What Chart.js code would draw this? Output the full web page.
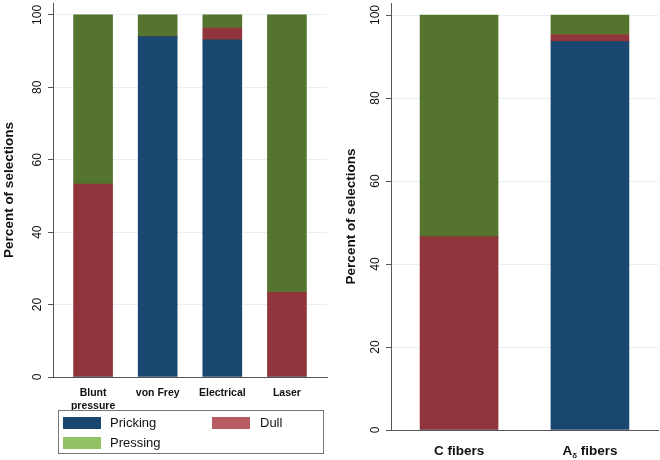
<!DOCTYPE html>
<html>
<head>
<meta charset="utf-8">
<script src="https://cdn.jsdelivr.net/npm/chart.js@4"></script>
<style>
  body { margin: 0; background: #fff; font-family: "Liberation Sans", Arial, sans-serif; }
  #wrap { position: relative; width: 660px; height: 460px; }
  canvas { position: absolute; top: 0; }
  #legend { position: absolute; left: 58px; top: 410px; width: 264px; height: 42px; border: 1px solid #777; font-size: 13px; color: #111; }
  .sw { position: absolute; width: 38px; height: 12px; }
  .lb { position: absolute; line-height: 14px; }
</style>
</head>
<body>
<div id="wrap">
  <canvas id="chartLeft" width="340" height="460" style="left:0"></canvas>
  <canvas id="chartRight" width="320" height="460" style="left:340px"></canvas>
  <div id="legend">
    <div class="sw" style="left:4px;top:6px;background:#1a476f"></div><div class="lb" style="left:51px;top:5px">Pricking</div>
    <div class="sw" style="left:153px;top:6px;background:#b75c62"></div><div class="lb" style="left:201px;top:5px">Dull</div>
    <div class="sw" style="left:4px;top:26px;background:#93c166"></div><div class="lb" style="left:51px;top:25px">Pressing</div>
  </div>
</div>
<script>
// données
const stimuli = [["Blunt", "pressure"], "von Frey", "Electrical", "Laser"];
const prickingStim = [0, 94.0, 93.1, 0];
const dullStim = [53.3, 0, 3.3, 23.4];
const pressingStim = [46.7, 6.0, 3.6, 76.6];

const fibers = ["C fibers", "A_δ fibers"];
const prickingFib = [0, 93.6];
const dullFib = [46.6, 1.7];
const pressingFib = [53.4, 4.7];

const yTicks = [0, 20, 40, 60, 80, 100];

const FONT = '"Liberation Sans", Arial, sans-serif';
const BLUE = "#1a476f", RED = "#90353b", GREEN = "#55752f";
const AXIS = "#555";

function pts(arr) {
  return arr.map((v, i) => ({ x: i, y: v }));
}

function datasets(p, d, s, thick) {
  return [
    { label: "Pricking", data: pts(p), backgroundColor: BLUE, barThickness: thick },
    { label: "Dull", data: pts(d), backgroundColor: RED, barThickness: thick },
    { label: "Pressing", data: pts(s), backgroundColor: GREEN, barThickness: thick },
  ];
}

// étiquettes de l'axe y tournées (style Stata)
const rotatedTicks = {
  id: "rotatedTicks",
  afterDraw(chart) {
    const y = chart.scales.y;
    const ctx = chart.ctx;
    ctx.save();
    ctx.font = "12px " + FONT;
    ctx.fillStyle = "#111";
    ctx.textAlign = "center";
    ctx.textBaseline = "middle";
    y.ticks.forEach(t => {
      ctx.save();
      ctx.translate(y.right - 15, y.getPixelForValue(t.value));
      ctx.rotate(-Math.PI / 2);
      ctx.fillText(String(t.value), 0, 0);
      ctx.restore();
    });
    ctx.restore();
  },
};

// étiquettes x avec indice (A_δ)
const subLabels = {
  id: "subLabels",
  afterDraw(chart) {
    const x = chart.scales.x;
    const ctx = chart.ctx;
    const big = "bold 13.5px " + FONT, small = "bold 8px " + FONT;
    ctx.save();
    ctx.fillStyle = "#111";
    ctx.textBaseline = "alphabetic";
    ctx.textAlign = "left";
    const base = x.top + 25;
    fibers.forEach((lab, i) => {
      const parts = lab.split("_");
      let pieces = [{ t: parts[0], f: big, dy: 0 }];
      if (parts.length > 1) {
        pieces.push({ t: parts[1][0], f: small, dy: 3 });
        pieces.push({ t: parts[1].slice(1), f: big, dy: 0 });
      }
      let w = 0;
      pieces.forEach(p => { ctx.font = p.f; p.w = ctx.measureText(p.t).width; w += p.w; });
      let cx = x.getPixelForValue(i) - w / 2;
      pieces.forEach(p => {
        ctx.font = p.f;
        ctx.fillText(p.t, cx, base + p.dy);
        cx += p.w;
      });
    });
    ctx.restore();
  },
};

function makeChart(id, cats, p, d, s, opt) {
  return new Chart(document.getElementById(id), {
    type: "bar",
    data: { datasets: datasets(p, d, s, opt.thick) },
    options: {
      responsive: false,
      animation: false,
      layout: { padding: { top: 3, right: opt.padRight, bottom: 0, left: 0 } },
      plugins: { legend: { display: false }, tooltip: { enabled: false } },
      scales: {
        x: {
          type: "linear",
          stacked: true,
          offset: false,
          min: opt.xMin,
          max: opt.xMax,
          grid: { display: false, offset: false },
          border: { display: true, color: AXIS, width: 1 },
          afterBuildTicks: sc => { sc.ticks = cats.map((c, i) => ({ value: i })); },
          afterFit: sc => { sc.height = opt.xHeight; },
          ticks: {
            display: opt.showXTicks,
            autoSkip: false,
            maxRotation: 0,
            padding: 2,
            color: "#111",
            font: { family: FONT, size: 10.5, weight: "bold" },
            callback: v => cats[v],
          },
        },
        y: {
          stacked: true,
          min: 0,
          max: opt.yMax,
          afterBuildTicks: sc => { sc.ticks = yTicks.map(v => ({ value: v })); },
          afterFit: sc => { sc.width = opt.yWidth; },
          grid: { color: "#e6eff1", tickLength: 5, tickColor: AXIS, drawTicks: true },
          border: { display: true, color: AXIS, width: 1 },
          ticks: { display: false },
          title: {
            display: true,
            text: "Percent of selections",
            color: "#111",
            font: { family: FONT, size: 13.5, weight: "bold" },
            padding: { top: opt.titlePad, bottom: 0 },
          },
        },
      },
    },
    plugins: opt.plugins,
  });
}

makeChart("chartLeft", stimuli, prickingStim, dullStim, pressingStim, {
  thick: 39, xMin: -0.62, xMax: 3.62, yMax: 103.3,
  yWidth: 53, xHeight: 83, padRight: 13, titlePad: 1,
  showXTicks: true, plugins: [rotatedTicks],
});

makeChart("chartRight", fibers, prickingFib, dullFib, pressingFib, {
  thick: 78, xMin: -0.52, xMax: 1.52, yMax: 102.9,
  yWidth: 51, xHeight: 30, padRight: 2, titlePad: 3,
  showXTicks: false, plugins: [rotatedTicks, subLabels],
});
</script>
</body>
</html>
